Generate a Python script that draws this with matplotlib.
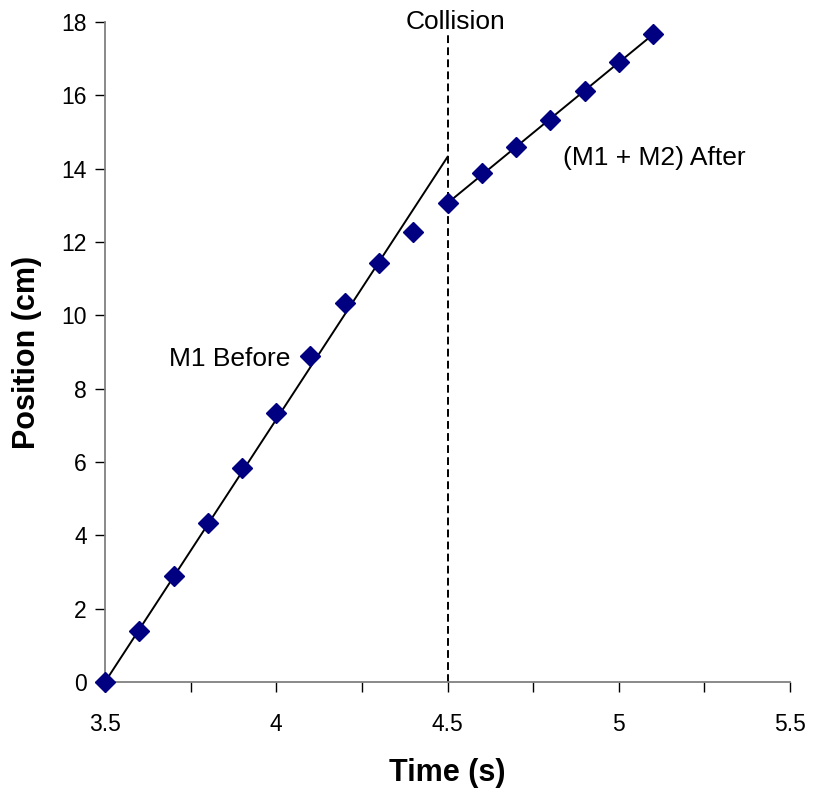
import matplotlib
matplotlib.use("Agg")
import matplotlib.pyplot as plt
from matplotlib.ticker import MultipleLocator, FuncFormatter

plt.rcParams['font.family'] = ['Liberation Sans', 'DejaVu Sans']

# Data
time_before = [3.5, 3.6, 3.7, 3.8, 3.9, 4.0, 4.1, 4.2, 4.3, 4.4]
pos_before = [0.0, 1.38, 2.88, 4.33, 5.83, 7.33, 8.88, 10.33, 11.42, 12.27]
time_after = [4.5, 4.6, 4.7, 4.8, 4.9, 5.0, 5.1]
pos_after = [13.06, 13.87, 14.58, 15.32, 16.11, 16.9, 17.66]

# Trend lines (endpoints)
fit_before_x = [3.5, 4.5]
fit_before_y = [0.0, 14.32]
fit_after_x = [4.5, 5.1]
fit_after_y = [13.06, 17.66]

collision_t = 4.5
collision_y = [0.0, 17.7]

fig = plt.figure(figsize=(8.2, 7.93), dpi=100)
ax = fig.add_axes([105/820, 1-682/793, (790-105)/820, (682-22)/793])

ax.plot(fit_before_x, fit_before_y, color='black', lw=1.4, zorder=2)
ax.plot(fit_after_x, fit_after_y, color='black', lw=1.4, zorder=2)
ax.plot([collision_t, collision_t], collision_y, color='black', lw=1.4,
        ls=(0, (4, 2.2)), zorder=2)
ax.plot(time_before + time_after, pos_before + pos_after, ls='none', marker='D',
        ms=10, color='#000080', zorder=3, clip_on=False)

ax.set_xlim(3.5, 5.5)
ax.set_ylim(0, 18)
ax.xaxis.set_major_locator(MultipleLocator(0.5))
ax.xaxis.set_minor_locator(MultipleLocator(0.25))
ax.yaxis.set_major_locator(MultipleLocator(2))

for s in ['top', 'right']:
    ax.spines[s].set_visible(False)
for s in ['left', 'bottom']:
    ax.spines[s].set_color('#808080')
    ax.spines[s].set_linewidth(1.3)

ax.tick_params(axis='both', which='both', direction='out', color='black', width=1.0)
ax.tick_params(axis='y', length=7, labelsize=16.5, pad=6)
ax.tick_params(axis='x', which='major', length=7, labelsize=16.5, pad=15)
ax.tick_params(axis='x', which='minor', length=7)
ax.xaxis.set_major_formatter(FuncFormatter(lambda v, p: f"{v:g}"))

ax.set_xlabel('Time (s)', fontsize=22, fontweight='bold', labelpad=16)
ax.set_ylabel('Position (cm)', fontsize=22, fontweight='bold', labelpad=14)

ax.text(4.522, 18.0, 'Collision', ha='center', va='center', fontsize=19)
ax.text(4.837, 14.29, '(M1 + M2) After', ha='left', va='center', fontsize=19)
ax.text(4.04, 8.81, 'M1 Before', ha='right', va='center', fontsize=19)

fig.savefig('out.png', dpi=100)
